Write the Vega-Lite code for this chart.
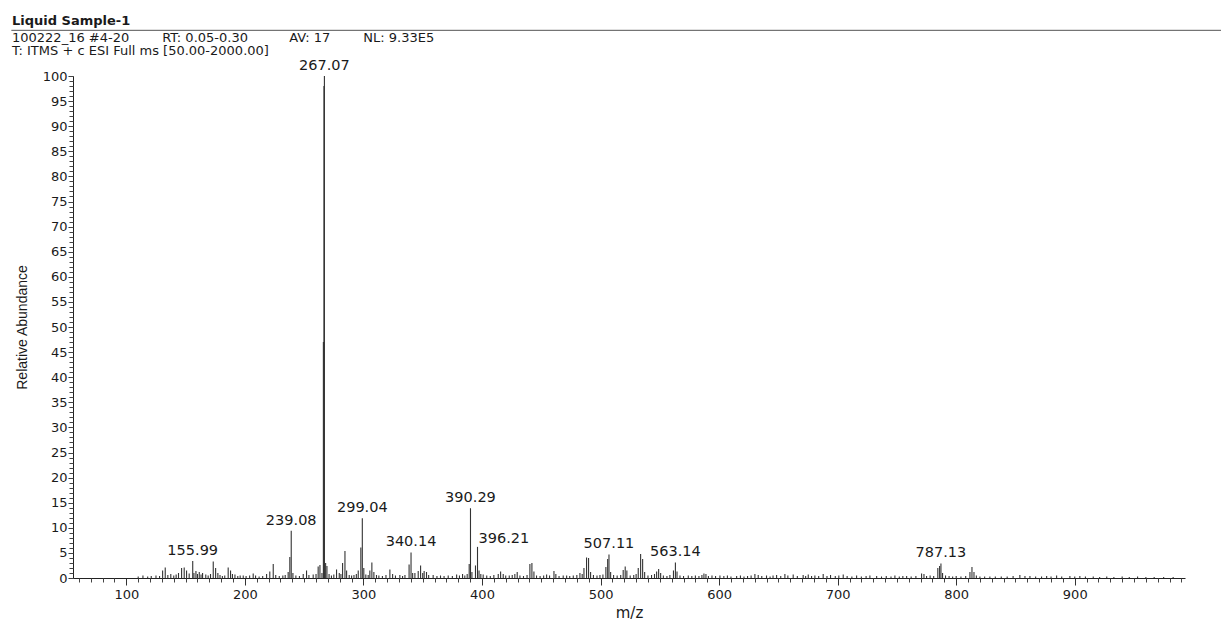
{
  "$schema": "https://vega.github.io/schema/vega-lite/v6.json",
  "width": 1112,
  "height": 502,
  "autosize": {"type": "none"},
  "padding": {"left": 73, "top": 76, "right": 36, "bottom": 62},
  "background": "#ffffff",
  "config": {"view": {"stroke": null}, "axis": {"grid": false}},
  "title": {
    "text": "Liquid Sample-1",
    "subtitle": ["100222_16 #4-20\u00a0\u00a0\u00a0\u00a0\u00a0\u00a0\u00a0\u00a0RT: 0.05-0.30\u00a0\u00a0\u00a0\u00a0\u00a0\u00a0\u00a0\u00a0\u00a0\u00a0AV: 17\u00a0\u00a0\u00a0\u00a0\u00a0\u00a0\u00a0\u00a0NL: 9.33E5", "T: ITMS + c ESI Full ms [50.00-2000.00]"],
    "anchor": "start",
    "frame": "group",
    "dx": -61,
    "offset": -28,
    "font": "DejaVu Sans",
    "fontSize": 13,
    "fontWeight": "bold",
    "color": "#1a1a1a",
    "subtitleFont": "DejaVu Sans",
    "subtitleFontSize": 13,
    "subtitleColor": "#1a1a1a",
    "subtitlePadding": 4,
    "subtitleLineHeight": 13
  },
  "datasets": {
    "peaks": [
      {"mz":110,"ab":0.3},{"mz":114,"ab":0.5},{"mz":118,"ab":0.3},{"mz":121,"ab":0.4},{"mz":125,"ab":0.5},{"mz":128,"ab":0.4},
      {"mz":130.6,"ab":1.5},{"mz":132.8,"ab":2.1},{"mz":135,"ab":0.6},{"mz":137.5,"ab":0.8},{"mz":140,"ab":0.5},{"mz":142,"ab":0.7},
      {"mz":144,"ab":1.0},{"mz":146.6,"ab":2.0},{"mz":148.8,"ab":2.1},{"mz":150.8,"ab":1.5},{"mz":153,"ab":0.9},{"mz":155.99,"ab":3.4},
      {"mz":157,"ab":1.0},{"mz":158.7,"ab":1.4},{"mz":160,"ab":0.8},{"mz":161.5,"ab":1.2},{"mz":163,"ab":0.7},{"mz":164.3,"ab":1.0},
      {"mz":167,"ab":0.7},{"mz":169,"ab":0.5},{"mz":171,"ab":0.8},{"mz":173.3,"ab":3.3},{"mz":175.3,"ab":2.0},{"mz":177.2,"ab":1.0},
      {"mz":179,"ab":0.6},{"mz":181,"ab":0.4},{"mz":183,"ab":0.5},{"mz":185.9,"ab":2.1},{"mz":187.9,"ab":1.5},{"mz":189.5,"ab":0.8},
      {"mz":191.6,"ab":0.7},{"mz":194,"ab":0.4},{"mz":196,"ab":0.5},{"mz":198.6,"ab":0.5},{"mz":201,"ab":0.4},{"mz":204,"ab":0.5},
      {"mz":207,"ab":0.9},{"mz":209,"ab":0.5},{"mz":212,"ab":0.3},{"mz":215,"ab":0.4},{"mz":218.3,"ab":0.8},{"mz":221,"ab":1.3},
      {"mz":223.9,"ab":2.8},{"mz":226,"ab":0.6},{"mz":229,"ab":0.4},{"mz":232,"ab":0.5},{"mz":234,"ab":0.6},{"mz":236.5,"ab":1.2},
      {"mz":237.9,"ab":4.2},{"mz":239.08,"ab":9.4},{"mz":240.5,"ab":1.0},{"mz":243,"ab":0.5},{"mz":246,"ab":0.4},{"mz":249.2,"ab":0.8},
      {"mz":252,"ab":1.5},{"mz":254,"ab":0.6},{"mz":257.6,"ab":0.7},{"mz":260,"ab":0.8},{"mz":261.8,"ab":2.3},{"mz":263.3,"ab":2.6},
      {"mz":265,"ab":1.0},{"mz":266.2,"ab":47},{"mz":266.7,"ab":98},{"mz":267.07,"ab":100},{"mz":268.1,"ab":3.0},{"mz":269.2,"ab":2.4},
      {"mz":271,"ab":0.8},{"mz":273,"ab":0.5},{"mz":275,"ab":0.7},{"mz":277.3,"ab":1.7},{"mz":279.6,"ab":1.0},{"mz":281,"ab":0.8},
      {"mz":282.4,"ab":3.0},{"mz":284.4,"ab":5.4},{"mz":285.8,"ab":1.5},{"mz":288,"ab":0.6},{"mz":290,"ab":0.5},{"mz":292,"ab":0.6},
      {"mz":294,"ab":0.8},{"mz":295.6,"ab":1.5},{"mz":297.8,"ab":6.1},{"mz":299.04,"ab":11.9},{"mz":300.3,"ab":2.0},{"mz":302,"ab":0.7},
      {"mz":304,"ab":0.6},{"mz":305.4,"ab":1.5},{"mz":307.1,"ab":3.1},{"mz":308.8,"ab":1.2},{"mz":311,"ab":0.6},{"mz":313,"ab":0.5},
      {"mz":316,"ab":0.4},{"mz":319,"ab":0.6},{"mz":322.3,"ab":1.7},{"mz":324.6,"ab":0.8},{"mz":327,"ab":0.5},{"mz":330.7,"ab":0.6},
      {"mz":333,"ab":0.4},{"mz":335,"ab":0.6},{"mz":338.5,"ab":2.7},{"mz":340.14,"ab":5.1},{"mz":341.5,"ab":1.0},{"mz":343.4,"ab":1.0},
      {"mz":346.2,"ab":1.4},{"mz":348.2,"ab":2.5},{"mz":350,"ab":1.0},{"mz":351.2,"ab":1.4},{"mz":353.2,"ab":1.2},{"mz":355,"ab":0.6},
      {"mz":358.8,"ab":0.6},{"mz":362,"ab":0.4},{"mz":365,"ab":0.5},{"mz":368,"ab":0.4},{"mz":371.5,"ab":0.5},{"mz":375,"ab":0.4},
      {"mz":378.6,"ab":0.7},{"mz":381,"ab":0.5},{"mz":383.6,"ab":0.8},{"mz":385.5,"ab":0.5},{"mz":387.5,"ab":0.8},{"mz":389.2,"ab":2.8},
      {"mz":390.29,"ab":13.9},{"mz":391.5,"ab":1.2},{"mz":394.5,"ab":2.5},{"mz":396.21,"ab":6.2},{"mz":397.5,"ab":1.5},{"mz":399,"ab":0.8},
      {"mz":401,"ab":0.7},{"mz":404,"ab":0.5},{"mz":407,"ab":0.4},{"mz":410,"ab":0.6},{"mz":413.7,"ab":0.8},{"mz":415.7,"ab":1.3},
      {"mz":417.9,"ab":0.8},{"mz":420,"ab":0.5},{"mz":423,"ab":0.5},{"mz":425.5,"ab":0.6},{"mz":427.7,"ab":0.8},{"mz":429.7,"ab":1.2},
      {"mz":432,"ab":0.5},{"mz":435,"ab":0.4},{"mz":438,"ab":0.6},{"mz":440.4,"ab":2.8},{"mz":442.1,"ab":3.0},{"mz":443.8,"ab":1.3},
      {"mz":446,"ab":0.5},{"mz":449,"ab":0.4},{"mz":452,"ab":0.5},{"mz":454.5,"ab":0.7},{"mz":457,"ab":0.5},{"mz":460.7,"ab":1.4},
      {"mz":462.3,"ab":0.8},{"mz":465,"ab":0.4},{"mz":468.5,"ab":0.5},{"mz":471.4,"ab":0.5},{"mz":474,"ab":0.4},{"mz":477,"ab":0.5},
      {"mz":480,"ab":0.6},{"mz":482.6,"ab":1.0},{"mz":484.5,"ab":0.8},{"mz":486,"ab":2.0},{"mz":488.2,"ab":4.1},{"mz":489.9,"ab":4.0},
      {"mz":491.6,"ab":1.2},{"mz":494,"ab":0.6},{"mz":497,"ab":0.5},{"mz":499.5,"ab":0.6},{"mz":502,"ab":0.7},{"mz":504.5,"ab":2.2},
      {"mz":506,"ab":3.8},{"mz":507.11,"ab":4.7},{"mz":508.5,"ab":1.2},{"mz":511,"ab":0.6},{"mz":514,"ab":0.5},{"mz":517,"ab":0.6},
      {"mz":519.1,"ab":1.6},{"mz":520.8,"ab":2.3},{"mz":522.2,"ab":1.5},{"mz":525,"ab":0.5},{"mz":528,"ab":0.6},{"mz":530,"ab":0.8},
      {"mz":531.8,"ab":2.0},{"mz":533.8,"ab":4.8},{"mz":535.5,"ab":3.8},{"mz":537.2,"ab":1.2},{"mz":540,"ab":0.5},{"mz":543,"ab":0.6},
      {"mz":545.5,"ab":0.8},{"mz":547.3,"ab":1.3},{"mz":549,"ab":1.8},{"mz":550.7,"ab":1.0},{"mz":553,"ab":0.5},{"mz":556,"ab":0.4},
      {"mz":558.5,"ab":0.6},{"mz":561.5,"ab":1.5},{"mz":563.14,"ab":3.1},{"mz":564.5,"ab":1.3},{"mz":567,"ab":0.5},{"mz":570,"ab":0.4},
      {"mz":574,"ab":0.5},{"mz":577,"ab":0.4},{"mz":580,"ab":0.5},{"mz":583,"ab":0.4},{"mz":585.5,"ab":0.6},{"mz":587.2,"ab":0.9},
      {"mz":588.9,"ab":0.8},{"mz":591,"ab":0.4},{"mz":594,"ab":0.5},{"mz":597,"ab":0.4},{"mz":600.7,"ab":0.5},{"mz":604,"ab":0.4},
      {"mz":607,"ab":0.5},{"mz":610,"ab":0.3},{"mz":614.8,"ab":0.4},{"mz":618,"ab":0.5},{"mz":621,"ab":0.3},{"mz":624,"ab":0.4},
      {"mz":627,"ab":0.5},{"mz":630.2,"ab":0.8},{"mz":633,"ab":0.6},{"mz":636,"ab":0.4},{"mz":640,"ab":0.5},{"mz":643,"ab":0.3},
      {"mz":645.5,"ab":0.5},{"mz":648.5,"ab":0.6},{"mz":652,"ab":0.4},{"mz":655.5,"ab":0.8},{"mz":658,"ab":0.5},{"mz":662.5,"ab":0.7},
      {"mz":666,"ab":0.4},{"mz":670.9,"ab":0.6},{"mz":673,"ab":0.4},{"mz":675.2,"ab":0.7},{"mz":678,"ab":0.4},{"mz":680.8,"ab":0.5},
      {"mz":684,"ab":0.4},{"mz":687.8,"ab":0.8},{"mz":691,"ab":0.4},{"mz":694,"ab":0.6},{"mz":698,"ab":0.4},{"mz":701,"ab":0.5},
      {"mz":704.7,"ab":0.7},{"mz":708,"ab":0.4},{"mz":712,"ab":0.3},{"mz":716,"ab":0.5},{"mz":720,"ab":0.3},{"mz":724,"ab":0.4},
      {"mz":727.2,"ab":0.5},{"mz":732.9,"ab":0.4},{"mz":737,"ab":0.3},{"mz":741,"ab":0.4},{"mz":745,"ab":0.3},{"mz":748.3,"ab":0.5},
      {"mz":752,"ab":0.3},{"mz":755,"ab":0.4},{"mz":758.2,"ab":0.4},{"mz":762,"ab":0.3},{"mz":766,"ab":0.4},{"mz":770.8,"ab":0.9},
      {"mz":772.8,"ab":0.8},{"mz":775,"ab":0.4},{"mz":778,"ab":0.5},{"mz":781,"ab":0.4},{"mz":784.5,"ab":2.0},{"mz":786,"ab":2.4},
      {"mz":787.13,"ab":2.9},{"mz":788.5,"ab":1.0},{"mz":791,"ab":0.5},{"mz":794,"ab":0.4},{"mz":797,"ab":0.3},{"mz":800,"ab":0.4},
      {"mz":804,"ab":0.3},{"mz":808,"ab":0.4},{"mz":811.6,"ab":1.2},{"mz":813.3,"ab":2.2},{"mz":815,"ab":1.2},{"mz":817,"ab":0.5},
      {"mz":820,"ab":0.3},{"mz":824,"ab":0.3},{"mz":828.4,"ab":0.3},{"mz":833,"ab":0.3},{"mz":838,"ab":0.3},{"mz":843,"ab":0.3},
      {"mz":848,"ab":0.4},{"mz":853.7,"ab":0.6},{"mz":858,"ab":0.4},{"mz":862.2,"ab":0.4},{"mz":867,"ab":0.3},{"mz":872,"ab":0.3},
      {"mz":876.3,"ab":0.4},{"mz":880,"ab":0.3},{"mz":884.7,"ab":0.5},{"mz":889,"ab":0.3},{"mz":895.9,"ab":0.4},{"mz":900,"ab":0.3},
      {"mz":904.3,"ab":0.4},{"mz":909,"ab":0.3},{"mz":915.6,"ab":0.3},{"mz":921,"ab":0.2},{"mz":927,"ab":0.3},{"mz":933,"ab":0.2},
      {"mz":940,"ab":0.3},{"mz":946,"ab":0.2},{"mz":953,"ab":0.3},{"mz":960,"ab":0.2},{"mz":967,"ab":0.2},{"mz":975,"ab":0.2},{"mz":983,"ab":0.2}
    ],
    "labels": [
      {"mz":155.99,"ab":3.4,"label":"155.99"},
      {"mz":239.08,"ab":9.4,"label":"239.08"},
      {"mz":267.07,"ab":100,"label":"267.07"},
      {"mz":299.04,"ab":11.9,"label":"299.04"},
      {"mz":340.14,"ab":5.1,"label":"340.14"},
      {"mz":390.29,"ab":13.9,"label":"390.29"},
      {"mz":396.21,"ab":6.2,"label":"396.21"},
      {"mz":507.11,"ab":4.7,"label":"507.11"},
      {"mz":563.14,"ab":3.1,"label":"563.14"},
      {"mz":787.13,"ab":2.9,"label":"787.13"}
    ],
    "header": [{"x1": 3, "x2": 1030, "y": 109.1}]
  },
  "layer": [
    {
      "data": {"name": "peaks"},
      "mark": {"type": "rule", "color": "#333333", "strokeWidth": 1.1},
      "encoding": {
        "x": {
          "field": "mz", "type": "quantitative",
          "scale": {"domain": [55, 993], "nice": false, "zero": false},
          "axis": {
            "orient": "bottom",
            "values": [100, 200, 300, 400, 500, 600, 700, 800, 900],
            "tickSize": 7, "tickColor": "#333333", "domainColor": "#222222",
            "labelFont": "DejaVu Sans", "labelFontSize": 13, "labelColor": "#1a1a1a", "labelPadding": 3,
            "title": "m/z", "titleFont": "DejaVu Sans", "titleFontSize": 15, "titleFontWeight": "normal",
            "titleColor": "#1a1a1a", "titlePadding": 4
          }
        },
        "y": {
          "field": "ab", "type": "quantitative",
          "scale": {"domain": [0, 100], "nice": false},
          "axis": {
            "orient": "left",
            "values": [0, 5, 10, 15, 20, 25, 30, 35, 40, 45, 50, 55, 60, 65, 70, 75, 80, 85, 90, 95, 100],
            "tickSize": 5, "tickColor": "#333333", "domainColor": "#222222",
            "labelFont": "DejaVu Sans", "labelFontSize": 13, "labelColor": "#1a1a1a", "labelPadding": 1,
            "title": "Relative Abundance", "titleFont": "Liberation Sans", "titleFontSize": 14,
            "titleFontWeight": "normal", "titleColor": "#1a1a1a", "titlePadding": 13
          }
        },
        "y2": {"datum": 0}
      }
    },
    {
      "data": {"name": "labels"},
      "transform": [{"filter": "datum.label != '396.21'"}],
      "mark": {"type": "text", "font": "DejaVu Sans", "fontSize": 14.5, "color": "#1a1a1a", "baseline": "bottom", "align": "center", "dy": -3},
      "encoding": {
        "x": {
          "field": "mz", "type": "quantitative",
          "axis": {
            "orient": "bottom", "labels": false, "domain": false, "title": null, "tickSize": 4, "tickColor": "#444444",
            "values": [60,70,80,90,110,120,130,140,150,160,170,180,190,210,220,230,240,250,260,270,280,290,310,320,330,340,350,360,370,380,390,410,420,430,440,450,460,470,480,490,510,520,530,540,550,560,570,580,590,610,620,630,640,650,660,670,680,690,710,720,730,740,750,760,770,780,790,810,820,830,840,850,860,870,880,890,910,920,930,940,950,960,970,980,990]
          }
        },
        "y": {
          "field": "ab", "type": "quantitative",
          "axis": {
            "orient": "left", "labels": false, "domain": false, "title": null, "tickSize": 4, "tickColor": "#444444",
            "values": [0,1,2,3,4,5,6,7,8,9,10,11,12,13,14,15,16,17,18,19,20,21,22,23,24,25,26,27,28,29,30,31,32,33,34,35,36,37,38,39,40,41,42,43,44,45,46,47,48,49,50,51,52,53,54,55,56,57,58,59,60,61,62,63,64,65,66,67,68,69,70,71,72,73,74,75,76,77,78,79,80,81,82,83,84,85,86,87,88,89,90,91,92,93,94,95,96,97,98,99,100]
          }
        },
        "text": {"field": "label"}
      }
    },
    {
      "data": {"name": "labels"},
      "transform": [{"filter": "datum.label == '396.21'"}],
      "mark": {"type": "text", "font": "DejaVu Sans", "fontSize": 14.5, "color": "#1a1a1a", "baseline": "bottom", "align": "left", "dx": 1, "dy": -1},
      "encoding": {
        "x": {"field": "mz", "type": "quantitative", "axis": null},
        "y": {"field": "ab", "type": "quantitative", "axis": null},
        "text": {"field": "label"}
      }
    },
    {
      "data": {"name": "header"},
      "mark": {"type": "rule", "color": "#555555", "strokeWidth": 1},
      "encoding": {
        "x": {"field": "x1", "type": "quantitative", "axis": null},
        "x2": {"field": "x2"},
        "y": {"field": "y", "type": "quantitative", "axis": null}
      }
    }
  ],
  "resolve": {"axis": {"x": "independent", "y": "independent"}}
}
